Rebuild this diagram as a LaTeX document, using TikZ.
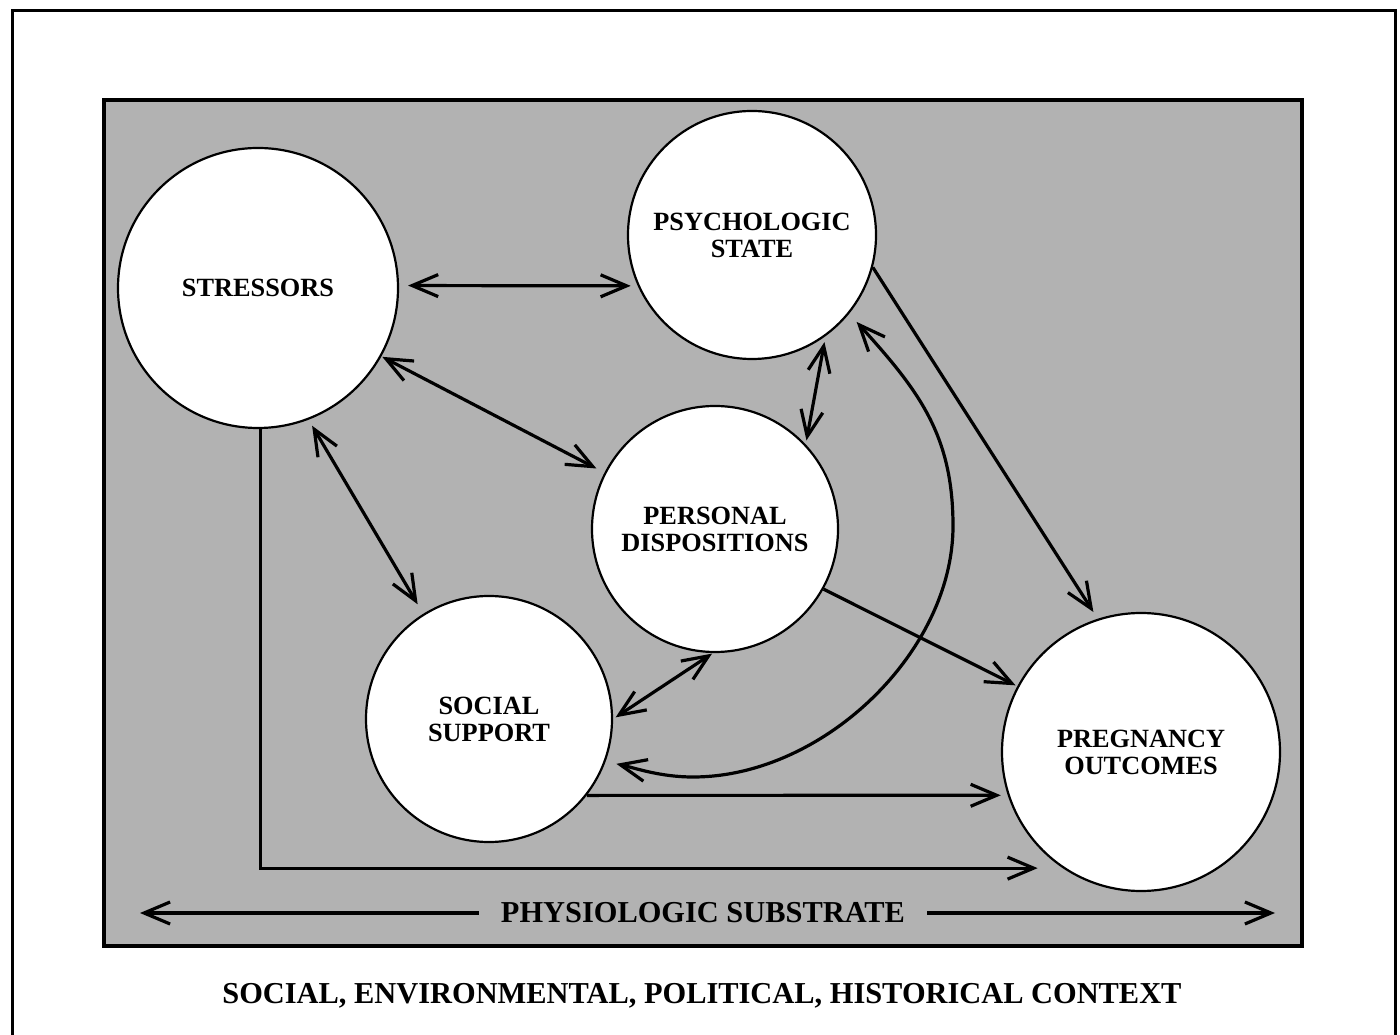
\documentclass[tikz,border=0pt]{standalone}
\usepackage{fontspec}
\setmainfont{Liberation Serif}
\usetikzlibrary{arrows.meta}
\definecolor{bggray}{gray}{0.70}
\tikzset{
  factor/.style={circle, draw=black, line width=2.2pt, fill=white, inner sep=0pt,
    align=center, font=\fontsize{26.3}{27}\selectfont\bfseries},
  link/.style={line width=3.2pt, draw=black},
  one/.style={link, -{Straight Barb[length=26pt,width=22pt]}},
  two/.style={link, {Straight Barb[length=26pt,width=22pt]}-{Straight Barb[length=26pt,width=22pt]}},
  bigtext/.style={font=\fontsize{30.4}{32}\selectfont\bfseries, inner sep=0pt}
}
\begin{document}
\begin{tikzpicture}[x=1pt,y=1pt]
\useasboundingbox (0,0) rectangle (1400,1034);
\fill[white] (0,0) rectangle (1400,1034);
% outer frame (no bottom edge visible)
\draw[line width=3pt] (12,-10) -- (12,1023) -- (1395,1023) -- (1395,-10);
% inner grey box
\draw[line width=3.2pt, fill=bggray] (104,88) rectangle (1302,934);

% factors
\node[factor, minimum size=280pt] (S) at (258,746) {STRESSORS};
\node[factor, minimum size=248pt] (P) at (752,799) {PSYCHOLOGIC\\STATE};
\node[factor, minimum size=246pt] (D) at (715,505) {PERSONAL\\DISPOSITIONS};
\node[factor, minimum size=246pt] (SS) at (489,315) {SOCIAL\\SUPPORT};
\node[factor, minimum size=278pt] (O) at (1141,282) {PREGNANCY\\OUTCOMES};

% connectors
\draw[two, shorten <=9pt, shorten >=7pt] (S.1) -- (P.204);
\draw[two, shorten <=1pt, shorten >=9pt] (S.331) -- (D.153);
\draw[two, shorten <=7pt, shorten >=11pt] (S.291) -- (SS.122);
\draw[two, shorten <=6pt, shorten >=4pt] (P.306) -- (D.43);
\draw[two, shorten <=1pt, shorten >=3pt] (D.269) -- (SS.0);
\draw[one, shorten >=8pt] (P.345) -- (O.108);
\draw[one, shorten >=2pt] (D.331) -- (O.152);
\draw[one, shorten >=7pt] (SS.322) -- (O.198);
\draw[one, shorten >=25pt] (S.271) |- (O.236);
\draw[two, shorten <=11pt, shorten >=11pt] (P.321)
  .. controls (918,644) and (953,600) .. (953,508)
  .. controls (953,382) and (823,257) .. (693,257)
  .. controls (660,257) and (635,266) .. (SS.340);

% physiologic substrate
\node[bigtext, inner xsep=22pt] (sub) at (703,121) {PHYSIOLOGIC SUBSTRATE};
\coordinate (subL) at (140,121);
\coordinate (subR) at (1275,121);
\draw[one] (sub.west) -- (subL);
\draw[one] (sub.east) -- (subR);

% context
\node[bigtext] (ctx) at (702,38) {SOCIAL, ENVIRONMENTAL, POLITICAL, HISTORICAL CONTEXT};
\end{tikzpicture}
\end{document}
